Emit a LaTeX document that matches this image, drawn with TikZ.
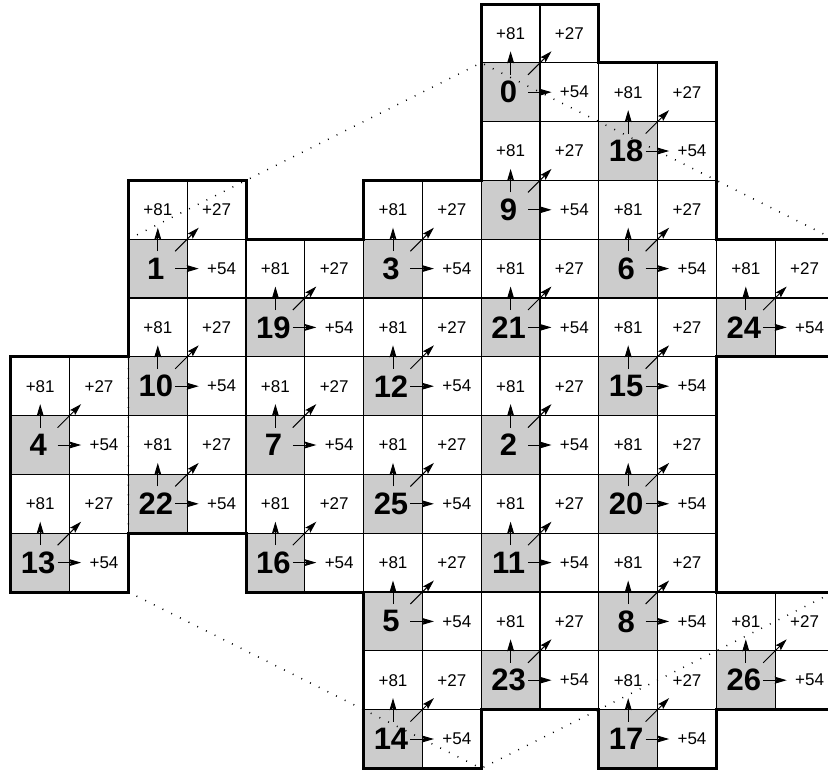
\documentclass[tikz,border=0pt]{standalone}
\usepackage{fontspec}
\setmainfont{Liberation Sans}
\usetikzlibrary{arrows.meta}
\begin{document}
\begin{tikzpicture}[x=58.8pt,y=-58.8pt,
  cell/.style={draw, line width=1.2pt, minimum width=58.8pt, minimum height=58.8pt,
    inner sep=0pt, outer sep=0pt, font=\fontsize{17}{17}\selectfont},
  numcell/.style={cell, fill=black!20, font=\fontsize{31}{31}\selectfont\bfseries},
  arr/.style={line width=1pt, -{Stealth[length=12pt,width=7pt,inset=2pt]}},
  border/.style={line width=3pt, line join=miter},
  period/.style={line width=1.5pt, dash pattern=on 0.9pt off 8.8pt}]
\useasboundingbox (-0.1837,-0.068) rectangle (13.898,13.044);
\fill[white] (-0.1837,-0.068) rectangle (13.898,13.044);
\clip (-0.1837,-0.068) rectangle (13.898,13.044);
% cells of every block: number, +81 (up), +27 (diagonal), +54 (right)
\foreach \n/\c/\r in {0/8/0, 18/10/1, 9/8/2, 1/2/3, 3/6/3, 6/10/3, 19/4/4, 21/8/4,
    24/12/4, 10/2/5, 12/6/5, 15/10/5, 4/0/6, 7/4/6, 2/8/6, 22/2/7, 25/6/7, 20/10/7,
    13/0/8, 16/4/8, 11/8/8, 5/6/9, 8/10/9, 23/8/10, 26/12/10, 14/6/11, 17/10/11} {
  \node[numcell] (n\n) at (\c+0.5,\r+1.5) {\n\hspace*{4pt}};
  \node[cell] (u\n) at (\c+0.5,\r+0.5) {+81};
  \node[cell] (d\n) at (\c+1.5,\r+0.5) {+27};
  \node[cell] (r\n) at (\c+1.5,\r+1.5) {\hspace*{10pt}+54};
}
% arrows
\foreach \n in {0,...,26} {
  \draw[arr] ([yshift=-12pt]n\n.north) -- ([yshift=11.5pt]n\n.north);
  \draw[arr] ([xshift=-12pt]n\n.east) -- ([xshift=11.5pt]n\n.east);
  \draw[arr] ([shift={(-12pt,-12pt)}]n\n.north east) -- ([shift={(11.5pt,11.5pt)}]n\n.north east);
}
% outline
\draw[border] (8,0) -- (10,0) -- (10,1) -- (12,1) -- (12,4) -- (14,4) -- (14,6)
  -- (12,6) -- (12,10) -- (14,10) -- (14,12) -- (12,12) -- (12,13) -- (10,13)
  -- (10,12) -- (8,12) -- (8,13) -- (6,13) -- (6,10) -- (4,10) -- (4,9) -- (2,9)
  -- (2,10) -- (0,10) -- (0,6) -- (2,6) -- (2,3) -- (4,3) -- (4,4) -- (6,4)
  -- (6,3) -- (8,3) -- cycle;
% period hexagon
\coordinate (h1) at (2,4);
\coordinate (h2) at (8,1);
\coordinate (h3) at (14,4);
\coordinate (h4) at (14,10);
\coordinate (h5) at (8,13);
\coordinate (h6) at (2,10);
\draw[period] (h1) -- (h2) -- (h3) -- (h4) -- (h5) -- (h6) -- cycle;
\end{tikzpicture}
\end{document}
